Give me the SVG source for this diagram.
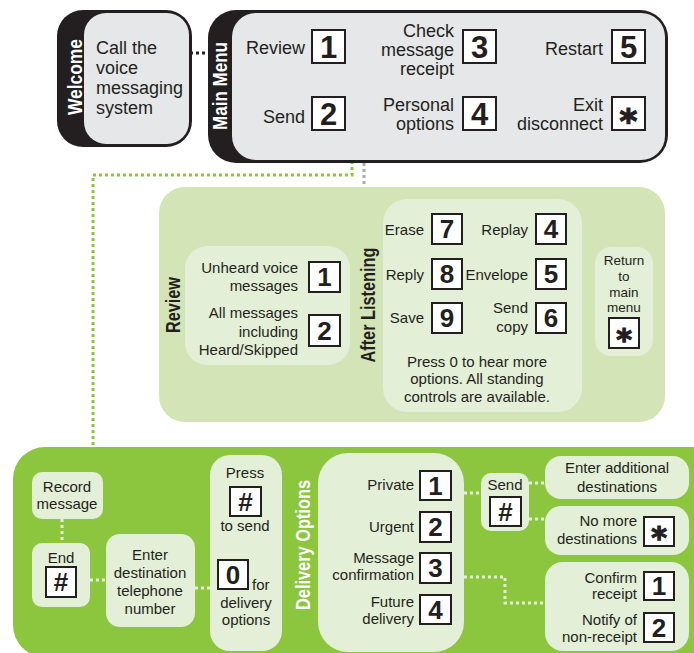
<svg xmlns="http://www.w3.org/2000/svg" width="694" height="653" viewBox="0 0 694 653">
<style>
text{font-family:"Liberation Sans",Arial,sans-serif;fill:#231f20}
.m{font-size:18px}
.s{font-size:15px}
.r{font-size:13.5px}
.e{text-anchor:end}
.c{text-anchor:middle}
.v{font-weight:bold;font-size:20px;text-anchor:middle}
.w{fill:#fff}
.k{fill:#fff;stroke:#231f20;stroke-width:2}
.d1{font-weight:bold;font-size:31px;text-anchor:middle}
.d2{font-weight:bold;font-size:26px;text-anchor:middle}
.ast{font-family:"DejaVu Sans",sans-serif;font-weight:bold;text-anchor:middle;stroke:#231f20;stroke-width:1.2}
.a1{font-size:34px}
.a2{font-size:30px}
.dark{fill:#231f20}
.gray{fill:#e6e7e8}
.lg{fill:#d3e4b6}
.pg{fill:#e4efd7}
.bg{fill:#8cc63f}
.dot{fill:none;stroke-width:3;stroke-dasharray:3 3}
</style>

<g id="connectors">
<path class="dot" stroke="#231f20" d="M190 53H208"/>
<path class="dot" stroke="#a7a9ac" d="M347 48H364V187"/>
<path class="dot" stroke="#8cc63f" d="M346 113H352V175H93V447"/>
</g>

<g id="welcome">
<rect class="dark" x="57" y="10" width="135" height="137" rx="26"/>
<rect class="gray" x="84" y="13" width="105" height="131" rx="22"/>
<text class="v w" transform="translate(82,77) rotate(-90)" textLength="76" lengthAdjust="spacingAndGlyphs">Welcome</text>
<text class="m" x="96" y="54">Call the</text>
<text class="m" x="96" y="74">voice</text>
<text class="m" x="96" y="94">messaging</text>
<text class="m" x="96" y="114">system</text>
</g>

<g id="main-menu">
<rect class="dark" x="208" y="10" width="460" height="153" rx="28"/>
<rect class="gray" x="232" y="13" width="433" height="147" rx="24"/>
<text class="v w" transform="translate(227,86) rotate(-90)" textLength="88" lengthAdjust="spacingAndGlyphs">Main Menu</text>
<text class="m e" x="305" y="54">Review</text>
<rect class="k" x="312" y="30" width="33" height="33"/><text class="d1" x="328.5" y="57.5">1</text>
<text class="m e" x="305" y="123">Send</text>
<rect class="k" x="312" y="97" width="33" height="33"/><text class="d1" x="328.5" y="124.5">2</text>
<text class="m e" x="454" y="37">Check</text>
<text class="m e" x="454" y="56">message</text>
<text class="m e" x="454" y="75">receipt</text>
<rect class="k" x="463" y="30" width="33" height="33"/><text class="d1" x="479.5" y="57.5">3</text>
<text class="m e" x="454" y="111">Personal</text>
<text class="m e" x="454" y="130">options</text>
<rect class="k" x="463" y="97" width="33" height="33"/><text class="d1" x="479.5" y="124.5">4</text>
<text class="m e" x="603" y="55">Restart</text>
<rect class="k" x="612" y="30" width="33" height="33"/><text class="d1" x="628.5" y="57.5">5</text>
<text class="m e" x="603" y="111">Exit</text>
<text class="m e" x="603" y="130">disconnect</text>
<rect class="k" x="612" y="97" width="33" height="33"/><text class="ast a1" x="628.5" y="133">*</text>
</g>

<g id="review">
<rect class="lg" x="159" y="187" width="506" height="235" rx="26"/>
<text class="v" transform="translate(180,305) rotate(-90)" textLength="56" lengthAdjust="spacingAndGlyphs">Review</text>
<rect class="pg" x="185" y="246" width="165" height="119" rx="22"/>
<text class="s e" x="298" y="273">Unheard voice</text>
<text class="s e" x="298" y="291">messages</text>
<rect class="k" x="309" y="262" width="31" height="30"/><text class="d2" x="324.5" y="286">1</text>
<text class="s e" x="298" y="318">All messages</text>
<text class="s e" x="298" y="337">including</text>
<text class="s e" x="298" y="355">Heard/Skipped</text>
<rect class="k" x="309" y="315" width="31" height="31"/><text class="d2" x="324.5" y="340">2</text>
</g>

<g id="after-listening">
<text class="v" transform="translate(375,305) rotate(-90)" textLength="115" lengthAdjust="spacingAndGlyphs">After Listening</text>
<rect class="pg" x="383" y="199" width="199" height="213" rx="24"/>
<text class="s e" x="424" y="235">Erase</text>
<rect class="k" x="432" y="214" width="30" height="30"/><text class="d2" x="447" y="238">7</text>
<text class="s e" x="528" y="235">Replay</text>
<rect class="k" x="536" y="214" width="30" height="30"/><text class="d2" x="551" y="238">4</text>
<text class="s e" x="424" y="280">Reply</text>
<rect class="k" x="432" y="259" width="30" height="30"/><text class="d2" x="447" y="283">8</text>
<text class="s e" x="528" y="280">Envelope</text>
<rect class="k" x="536" y="259" width="30" height="30"/><text class="d2" x="551" y="283">5</text>
<text class="s e" x="424" y="323">Save</text>
<rect class="k" x="432" y="303" width="30" height="30"/><text class="d2" x="447" y="327">9</text>
<text class="s e" x="528" y="313">Send</text>
<text class="s e" x="528" y="332">copy</text>
<rect class="k" x="536" y="303" width="30" height="30"/><text class="d2" x="551" y="327">6</text>
<text class="s c" x="477" y="367">Press 0 to hear more</text>
<text class="s c" x="477" y="384">options. All standing</text>
<text class="s c" x="477" y="402">controls are available.</text>
</g>

<g id="return-main">
<rect class="pg" x="595" y="247" width="58" height="109" rx="16"/>
<text class="r c" x="624" y="265">Return</text>
<text class="r c" x="624" y="281">to</text>
<text class="r c" x="624" y="297">main</text>
<text class="r c" x="624" y="312">menu</text>
<rect class="k" x="609" y="318" width="30" height="30"/><text class="ast a2" x="624" y="350">*</text>
</g>

<g id="send">
<rect class="bg" x="13" y="447" width="720" height="210" rx="32"/>
<g id="send-connectors">
<path class="dot" stroke="#e4efd7" d="M62 519V543"/>
<path class="dot" stroke="#e4efd7" d="M90 580H106"/>
<path class="dot" stroke="#e4efd7" d="M195 588H210"/>
<path class="dot" stroke="#e4efd7" d="M464 493H481"/>
<path class="dot" stroke="#e4efd7" d="M529 483H545"/>
<path class="dot" stroke="#e4efd7" d="M529 519H545"/>
<path class="dot" stroke="#e4efd7" d="M464 577H505V603H545"/>
</g>
</g>

<g id="record-message">
<rect class="pg" x="32" y="472" width="71" height="47" rx="10"/>
<text class="s c" x="67" y="492">Record</text>
<text class="s c" x="67" y="509">message</text>
</g>

<g id="end">
<rect class="pg" x="32" y="543" width="58" height="64" rx="10"/>
<text class="s c" x="61" y="563">End</text>
<rect class="k" x="46" y="567" width="30" height="30"/><text class="d2" x="61" y="591">#</text>
</g>

<g id="enter-destination">
<rect class="pg" x="106" y="534" width="89" height="93" rx="14"/>
<text class="s c" x="150" y="560">Enter</text>
<text class="s c" x="150" y="578">destination</text>
<text class="s c" x="150" y="596">telephone</text>
<text class="s c" x="150" y="614">number</text>
</g>

<g id="press">
<rect class="pg" x="210" y="455" width="72" height="196" rx="20"/>
<text class="s c" x="245" y="478">Press</text>
<rect class="k" x="230" y="487" width="31" height="29"/><text class="d2" x="245.5" y="511">#</text>
<text class="s c" x="245" y="531">to send</text>
<rect class="k" x="218" y="560" width="30" height="29"/><text class="d2" x="233" y="584">0</text>
<text class="s" x="252" y="590">for</text>
<text class="s c" x="246" y="608">delivery</text>
<text class="s c" x="246" y="625">options</text>
</g>

<g id="delivery-options">
<text class="v w" transform="translate(310,545) rotate(-90)" textLength="130" lengthAdjust="spacingAndGlyphs">Delivery Options</text>
<rect class="pg" x="318" y="453" width="146" height="199" rx="30"/>
<text class="s e" x="414" y="490">Private</text>
<rect class="k" x="420" y="471" width="31" height="29"/><text class="d2" x="435.5" y="495">1</text>
<text class="s e" x="414" y="532">Urgent</text>
<rect class="k" x="420" y="512" width="31" height="30"/><text class="d2" x="435.5" y="536">2</text>
<text class="s e" x="414" y="563">Message</text>
<text class="s e" x="414" y="580">confirmation</text>
<rect class="k" x="420" y="553" width="31" height="30"/><text class="d2" x="435.5" y="577">3</text>
<text class="s e" x="414" y="607">Future</text>
<text class="s e" x="414" y="624">delivery</text>
<rect class="k" x="420" y="595" width="31" height="29"/><text class="d2" x="435.5" y="619">4</text>
</g>

<g id="send-hash">
<rect class="pg" x="481" y="473" width="48" height="58" rx="10"/>
<text class="s c" x="505" y="490">Send</text>
<rect class="k" x="490" y="497" width="31" height="29"/><text class="d2" x="505.5" y="521">#</text>
</g>

<g id="enter-additional">
<rect class="pg" x="545" y="456" width="144" height="43" rx="16"/>
<text class="s c" x="617" y="473">Enter additional</text>
<text class="s c" x="617" y="492">destinations</text>
</g>

<g id="no-more">
<rect class="pg" x="545" y="506" width="144" height="49" rx="16"/>
<text class="s e" x="637" y="526">No more</text>
<text class="s e" x="637" y="544">destinations</text>
<rect class="k" x="644" y="517" width="30" height="29"/><text class="ast a2" x="659" y="548">*</text>
</g>

<g id="confirm">
<rect class="pg" x="545" y="562" width="144" height="89" rx="18"/>
<text class="s e" x="637" y="583">Confirm</text>
<text class="s e" x="637" y="599">receipt</text>
<rect class="k" x="644" y="572" width="30" height="28"/><text class="d2" x="659" y="595">1</text>
<text class="s e" x="637" y="625">Notify of</text>
<text class="s e" x="637" y="642">non-receipt</text>
<rect class="k" x="644" y="613" width="30" height="29"/><text class="d2" x="659" y="637">2</text>
</g>
</svg>
